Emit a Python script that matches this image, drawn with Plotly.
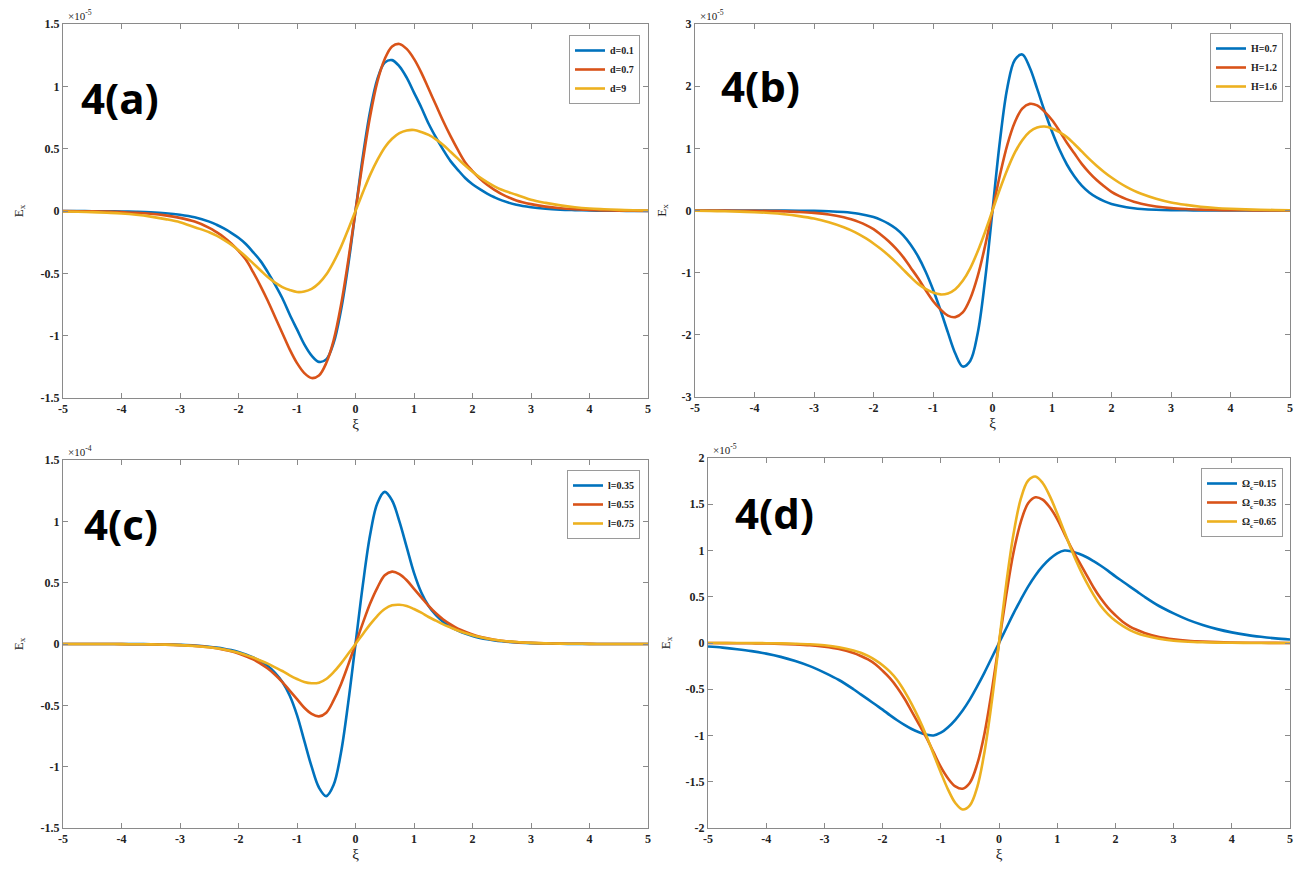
import plotly.graph_objects as go

# ---------------- data ----------------
xi = [-5, -4.75, -4.5, -4.25, -4, -3.75, -3.5, -3.25, -3, -2.75,
      -2.5, -2.375, -2.25, -2.125, -2, -1.875, -1.75, -1.625, -1.5, -1.375, -1.25, -1.125, -1,
      -0.875, -0.75, -0.625, -0.5, -0.375, -0.25, -0.125, 0,
      0.125, 0.25, 0.375, 0.5, 0.625, 0.75, 0.875, 1, 1.125, 1.25, 1.375, 1.5, 1.625, 1.75,
      1.875, 2, 2.125, 2.25, 2.375, 2.5,
      2.75, 3, 3.25, 3.5, 3.75, 4, 4.25, 4.5, 4.75, 5]

# panel (a), units of 1e-5
a_names = ["d=0.1", "d=0.7", "d=9"]
a_d01 = [-0.0005, -0.001, -0.0015, -0.0025, -0.004, -0.007, -0.011, -0.018, -0.03, -0.05,
         -0.085, -0.11, -0.14, -0.175, -0.215, -0.265, -0.33, -0.40, -0.49, -0.59, -0.70, -0.83, -0.95,
         -1.07, -1.16, -1.21, -1.19, -1.06, -0.80, -0.435, 0,
         0.435, 0.80, 1.06, 1.19, 1.21, 1.16, 1.07, 0.95, 0.83, 0.70, 0.59, 0.49, 0.40, 0.33,
         0.265, 0.215, 0.175, 0.14, 0.11, 0.085,
         0.05, 0.03, 0.018, 0.011, 0.007, 0.004, 0.0025, 0.0015, 0.001, 0.0005]
a_d07 = [-0.001, -0.002, -0.003, -0.005, -0.009, -0.014, -0.022, -0.035, -0.055, -0.085,
         -0.135, -0.17, -0.21, -0.26, -0.32, -0.39, -0.49, -0.60, -0.72, -0.85, -0.98, -1.11, -1.22,
         -1.30, -1.34, -1.32, -1.22, -1.04, -0.76, -0.40, 0,
         0.40, 0.76, 1.04, 1.22, 1.32, 1.34, 1.30, 1.22, 1.11, 0.98, 0.85, 0.72, 0.60, 0.49,
         0.39, 0.32, 0.26, 0.21, 0.17, 0.135,
         0.085, 0.055, 0.035, 0.022, 0.014, 0.009, 0.005, 0.003, 0.002, 0.001]
a_d9 = [-0.004, -0.006, -0.009, -0.014, -0.02, -0.03, -0.045, -0.065, -0.09, -0.13,
        -0.17, -0.198, -0.232, -0.27, -0.315, -0.365, -0.42, -0.475, -0.53, -0.575, -0.61, -0.634, -0.65,
        -0.646, -0.625, -0.58, -0.51, -0.41, -0.29, -0.148, 0,
        0.148, 0.29, 0.41, 0.51, 0.58, 0.625, 0.646, 0.65, 0.634, 0.61, 0.575, 0.53, 0.475, 0.42,
        0.365, 0.315, 0.27, 0.232, 0.198, 0.17,
        0.13, 0.09, 0.065, 0.045, 0.03, 0.02, 0.014, 0.009, 0.006, 0.004]

# panel (b), units of 1e-5
b_names = ["H=0.7", "H=1.2", "H=1.6"]
b_h07 = [0, 0, 0, 0, -0.0005, -0.001, -0.0015, -0.003, -0.006, -0.012,
         -0.025, -0.036, -0.052, -0.075, -0.105, -0.15, -0.21, -0.29, -0.40, -0.55, -0.74, -0.98, -1.27,
         -1.60, -1.96, -2.30, -2.51, -2.42, -1.98, -1.12, 0,
         1.12, 1.98, 2.42, 2.51, 2.30, 1.96, 1.60, 1.27, 0.98, 0.74, 0.55, 0.40, 0.29, 0.21,
         0.15, 0.105, 0.075, 0.052, 0.036, 0.025,
         0.012, 0.006, 0.003, 0.0015, 0.001, 0.0005, 0, 0, 0, 0]
b_h12 = [0, -0.001, -0.002, -0.003, -0.005, -0.008, -0.014, -0.023, -0.038, -0.065,
         -0.11, -0.142, -0.183, -0.235, -0.30, -0.39, -0.49, -0.61, -0.75, -0.92, -1.09, -1.28, -1.455,
         -1.59, -1.69, -1.715, -1.64, -1.42, -1.06, -0.57, 0,
         0.57, 1.06, 1.42, 1.64, 1.715, 1.69, 1.59, 1.455, 1.28, 1.09, 0.92, 0.75, 0.61, 0.49,
         0.39, 0.30, 0.235, 0.183, 0.142, 0.11,
         0.065, 0.038, 0.023, 0.014, 0.008, 0.005, 0.003, 0.002, 0.001, 0]
b_h16 = [-0.005, -0.008, -0.012, -0.018, -0.027, -0.04, -0.06, -0.09, -0.13, -0.19,
         -0.27, -0.32, -0.38, -0.45, -0.53, -0.62, -0.72, -0.83, -0.95, -1.07, -1.18, -1.26, -1.32,
         -1.35, -1.334, -1.265, -1.13, -0.93, -0.66, -0.345, 0,
         0.345, 0.66, 0.93, 1.13, 1.265, 1.334, 1.35, 1.32, 1.26, 1.18, 1.07, 0.95, 0.83, 0.72,
         0.62, 0.53, 0.45, 0.38, 0.32, 0.27,
         0.19, 0.13, 0.09, 0.06, 0.04, 0.027, 0.018, 0.012, 0.008, 0.005]

# panel (c), units of 1e-4
c_names = ["l=0.35", "l=0.55", "l=0.75"]
c_l035 = [0, 0, 0, 0, -0.0005, -0.001, -0.002, -0.004, -0.007, -0.012,
          -0.022, -0.029, -0.038, -0.05, -0.065, -0.085, -0.11, -0.14, -0.18, -0.235, -0.31, -0.42, -0.58,
          -0.79, -1.0, -1.17, -1.24, -1.15, -0.89, -0.48, 0,
          0.48, 0.89, 1.15, 1.24, 1.17, 1.0, 0.79, 0.58, 0.42, 0.31, 0.235, 0.18, 0.14, 0.11,
          0.085, 0.065, 0.05, 0.038, 0.029, 0.022,
          0.012, 0.007, 0.004, 0.002, 0.001, 0.0005, 0, 0, 0, 0]
c_l055 = [0, 0, 0, 0, -0.001, -0.002, -0.003, -0.005, -0.009, -0.015,
          -0.027, -0.035, -0.046, -0.06, -0.078, -0.1, -0.125, -0.16, -0.2, -0.25, -0.31, -0.38, -0.45,
          -0.52, -0.57, -0.59, -0.56, -0.46, -0.33, -0.17, 0,
          0.17, 0.33, 0.46, 0.56, 0.59, 0.57, 0.52, 0.45, 0.38, 0.31, 0.25, 0.2, 0.16, 0.125,
          0.1, 0.078, 0.06, 0.046, 0.035, 0.027,
          0.015, 0.009, 0.005, 0.003, 0.002, 0.001, 0, 0, 0, 0]
c_l075 = [0, 0, 0, 0, -0.001, -0.002, -0.003, -0.005, -0.009, -0.016,
          -0.027, -0.035, -0.045, -0.057, -0.072, -0.09, -0.11, -0.135, -0.16, -0.19, -0.22, -0.255, -0.285,
          -0.31, -0.32, -0.315, -0.285, -0.23, -0.16, -0.08, 0,
          0.08, 0.16, 0.23, 0.285, 0.315, 0.32, 0.31, 0.285, 0.255, 0.22, 0.19, 0.16, 0.135, 0.11,
          0.09, 0.072, 0.057, 0.045, 0.035, 0.027,
          0.016, 0.009, 0.005, 0.003, 0.002, 0.001, 0, 0, 0, 0]

# panel (d), units of 1e-5
d_names = ["Ω<sub>c</sub>=0.15", "Ω<sub>c</sub>=0.35", "Ω<sub>c</sub>=0.65"]
d_o015 = [-0.038, -0.05, -0.067, -0.088, -0.115, -0.15, -0.195, -0.25, -0.32, -0.40,
          -0.5, -0.555, -0.61, -0.665, -0.72, -0.78, -0.835, -0.885, -0.93, -0.965, -0.99, -1.0, -0.97,
          -0.91, -0.83, -0.73, -0.61, -0.47, -0.32, -0.16, 0,
          0.16, 0.32, 0.47, 0.61, 0.73, 0.83, 0.91, 0.97, 1.0, 0.99, 0.965, 0.93, 0.885, 0.835,
          0.78, 0.72, 0.665, 0.61, 0.555, 0.5,
          0.40, 0.32, 0.25, 0.195, 0.15, 0.115, 0.088, 0.067, 0.05, 0.038]
d_o035 = [0, -0.001, -0.002, -0.0035, -0.0055, -0.009, -0.015, -0.024, -0.039, -0.064,
          -0.108, -0.14, -0.178, -0.23, -0.30, -0.38, -0.48, -0.60, -0.74, -0.88, -1.02, -1.18, -1.34,
          -1.465, -1.55, -1.575, -1.51, -1.31, -0.98, -0.52, 0,
          0.52, 0.98, 1.31, 1.51, 1.575, 1.55, 1.465, 1.34, 1.18, 1.02, 0.88, 0.74, 0.60, 0.48,
          0.38, 0.30, 0.23, 0.178, 0.14, 0.108,
          0.064, 0.039, 0.024, 0.015, 0.009, 0.0055, 0.0035, 0.002, 0.001, 0]
d_o065 = [0, 0, 0, -0.001, -0.002, -0.004, -0.008, -0.014, -0.025, -0.045,
          -0.08, -0.105, -0.14, -0.185, -0.24, -0.31, -0.40, -0.52, -0.66, -0.82, -1.0, -1.2, -1.40,
          -1.585, -1.73, -1.80, -1.755, -1.56, -1.18, -0.64, 0,
          0.64, 1.18, 1.56, 1.755, 1.80, 1.73, 1.585, 1.40, 1.2, 1.0, 0.82, 0.66, 0.52, 0.40,
          0.31, 0.24, 0.185, 0.14, 0.105, 0.08,
          0.045, 0.025, 0.014, 0.008, 0.004, 0.002, 0.001, 0, 0, 0]

x_ticks = [-5, -4, -3, -2, -1, 0, 1, 2, 3, 4, 5]
a_yticks = [-1.5, -1, -0.5, 0, 0.5, 1, 1.5]
b_yticks = [-3, -2, -1, 0, 1, 2, 3]
c_yticks = [-1.5, -1, -0.5, 0, 0.5, 1, 1.5]
d_yticks = [-2, -1.5, -1, -0.5, 0, 0.5, 1, 1.5, 2]
exponents = ["×10<sup>-5</sup>", "×10<sup>-5</sup>", "×10<sup>-4</sup>", "×10<sup>-5</sup>"]
panel_labels = ["4(a)", "4(b)", "4(c)", "4(d)"]

colors = ["#0072BD", "#D95319", "#EDB120"]


def fmt(v):
    return "%g" % v  # plain hyphen minus, as in the reference


# ---------------- layout geometry ----------------
W, H = 1298, 869
def px_x(p): return p / W
def px_y(p): return 1 - p / H

panels = [
    dict(x0=63, x1=648, y0=24, y1=398, series=[a_d01, a_d07, a_d9], names=a_names,
         yticks=a_yticks, yr=[-1.5, 1.5], leg=(640, 35), lab=(120, 97), ystand=14),
    dict(x0=695, x1=1290, y0=24, y1=397, series=[b_h07, b_h12, b_h16], names=b_names,
         yticks=b_yticks, yr=[-3, 3], leg=(1283, 33), lab=(760, 85), ystand=12),
    dict(x0=63, x1=648, y0=460, y1=828, series=[c_l035, c_l055, c_l075], names=c_names,
         yticks=c_yticks, yr=[-1.5, 1.5], leg=(640, 470), lab=(121, 523), ystand=14),
    dict(x0=708, x1=1290, y0=458, y1=828, series=[d_o015, d_o035, d_o065], names=d_names,
         yticks=d_yticks, yr=[-2, 2], leg=(1283, 468), lab=(775, 512), ystand=12),
]

fig = go.Figure()
layout = dict(width=W, height=H, margin=dict(l=0, r=0, t=0, b=0, autoexpand=False),
              paper_bgcolor="white", plot_bgcolor="white", showlegend=True)
annotations = []
axcol = "#8a8a8a"
tickfont = dict(family="Liberation Serif", size=12, color="#222", weight="bold")

for i, p in enumerate(panels):
    n = "" if i == 0 else str(i + 1)
    legname = "legend" if i == 0 else "legend" + str(i + 1)
    for s, name, col in zip(p["series"], p["names"], colors):
        fig.add_trace(go.Scatter(x=xi, y=s, mode="lines", name=name,
                                 line=dict(color=col, width=2.6, shape="spline", smoothing=1.0),
                                 xaxis="x" + n, yaxis="y" + n, legend=legname))
    layout["xaxis" + n] = dict(domain=[px_x(p["x0"]), px_x(p["x1"])], anchor="y" + n,
                               range=[-5, 5], tickvals=x_ticks, ticktext=[fmt(v) for v in x_ticks],
                               ticks="inside", ticklen=5, ticklabeloverflow="allow",
                               tickcolor=axcol, showline=True, linecolor=axcol, linewidth=1,
                               mirror="ticks", showgrid=False, zeroline=False, tickfont=tickfont,
                               title=dict(text="ξ", font=dict(family="Liberation Serif", size=15, color="#222"),
                                          standoff=2))
    layout["yaxis" + n] = dict(domain=[px_y(p["y1"]), px_y(p["y0"])], anchor="x" + n,
                               range=p["yr"], tickvals=p["yticks"], ticktext=[fmt(v) for v in p["yticks"]],
                               ticks="inside", ticklen=5, ticklabeloverflow="allow",
                               tickcolor=axcol, showline=True, linecolor=axcol, linewidth=1,
                               mirror="ticks", showgrid=False, zeroline=False, tickfont=tickfont,
                               title=dict(text="E<sub>x</sub>",
                                          font=dict(family="Liberation Serif", size=13, color="#222"),
                                          standoff=p["ystand"]))
    layout[legname] = dict(x=px_x(p["leg"][0]), y=px_y(p["leg"][1]), xanchor="right", yanchor="top",
                           bgcolor="white", bordercolor="#9a9a9a", borderwidth=1,
                           font=dict(family="Liberation Serif", size=10, color="#222", weight="bold"),
                           itemwidth=30, tracegroupgap=0)
    annotations.append(dict(x=px_x(p["x0"]) + 0.002, y=px_y(p["y0"]), xref="paper", yref="paper",
                            xanchor="left", yanchor="bottom", text=exponents[i], showarrow=False,
                            font=dict(family="Liberation Serif", size=11, color="#222")))
    annotations.append(dict(x=px_x(p["lab"][0]), y=px_y(p["lab"][1]), xref="paper", yref="paper",
                            xanchor="center", yanchor="middle", text="<b>" + panel_labels[i] + "</b>",
                            showarrow=False, font=dict(family="Open Sans", size=42, color="black")))

layout["annotations"] = annotations
fig.update_layout(**layout)
fig.write_html("out.html", config={"displayModeBar": False},
               post_script="document.body.style.margin='0';document.body.style.overflow='hidden';")
